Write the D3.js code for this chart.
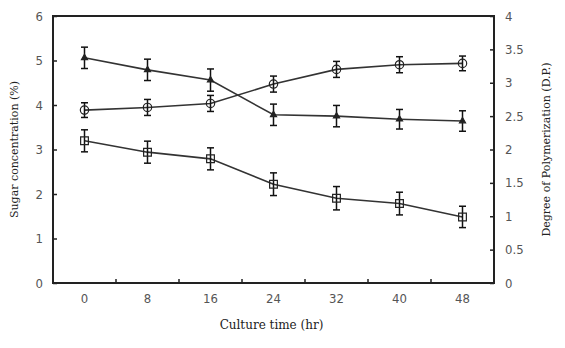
<!DOCTYPE html>
<html>
<head>
<meta charset="utf-8">
<script src="https://cdn.jsdelivr.net/npm/d3@7"></script>
<style>
  html, body { margin: 0; padding: 0; background: #fff; }
  svg { display: block; }
</style>
</head>
<body>
<svg id="chart" width="565" height="348"></svg>
<script>
// Culture time (hr)
const times = ["0", "8", "16", "24", "32", "40", "48"];

// Sugar concentration (%), left axis (triangles)
const sugar = [5.06, 4.79, 4.56, 3.78, 3.75, 3.68, 3.64];
const sugarErr = [0.24, 0.24, 0.25, 0.24, 0.24, 0.22, 0.23];

// Degree of polymerization, right axis (circles and squares)
const dpCircle = [2.59, 2.63, 2.69, 2.98, 3.20, 3.27, 3.29];
const dpCircleErr = [0.11, 0.12, 0.12, 0.12, 0.12, 0.12, 0.11];
const dpSquare = [2.13, 1.96, 1.86, 1.48, 1.27, 1.19, 0.99];
const dpSquareErr = [0.165, 0.165, 0.165, 0.17, 0.175, 0.17, 0.16];

const leftTicks = [0, 1, 2, 3, 4, 5, 6];
const rightTicks = [0, 0.5, 1, 1.5, 2, 2.5, 3, 3.5, 4];

const svg = d3.select("#chart");
const m = { left: 53, right: 494, top: 16, bottom: 283 };
const axisColor = "#222";
const lineColor = "#333";
const tickFont = "'Liberation Sans Narrow', 'DejaVu Sans Condensed', sans-serif";
const titleFont = "'DejaVu Serif', 'Liberation Serif', serif";

const x = d3.scaleBand().domain(times).range([m.left, m.right]);
const yL = d3.scaleLinear().domain([0, 6]).range([m.bottom, m.top]);
const yR = d3.scaleLinear().domain([0, 4]).range([m.bottom, m.top]);
const cx = t => x(t) + x.bandwidth() / 2;

// Left axis: ticks point into the plot
const gL = svg.append("g").attr("transform", `translate(${m.left},0)`)
  .call(d3.axisRight(yL).tickValues(leftTicks).tickSize(4).tickFormat(""));
gL.select(".domain").remove();
gL.selectAll("line").attr("stroke", axisColor).attr("stroke-width", 1.5);
svg.append("g").selectAll("text").data(leftTicks).join("text")
  .attr("x", m.left - 10).attr("y", d => yL(d)).attr("dy", "0.35em")
  .attr("text-anchor", "end").attr("font-family", tickFont).attr("font-size", 13)
  .attr("fill", "#555").text(d => d);

// Right axis: ticks point into the plot
const gR = svg.append("g").attr("transform", `translate(${m.right},0)`)
  .call(d3.axisLeft(yR).tickValues(rightTicks).tickSize(4).tickFormat(""));
gR.select(".domain").remove();
gR.selectAll("line").attr("stroke", axisColor).attr("stroke-width", 1.5);
svg.append("g").selectAll("text").data(rightTicks).join("text")
  .attr("x", m.right + 11).attr("y", d => yR(d)).attr("dy", "0.35em")
  .attr("text-anchor", "start").attr("font-family", tickFont).attr("font-size", 13)
  .attr("fill", "#555").text(d => d);

// Bottom axis: ticks at category boundaries, labels at centers
const bounds = times.slice(1).map(t => x(t));
svg.append("g").selectAll("line").data(bounds).join("line")
  .attr("x1", d => d).attr("x2", d => d)
  .attr("y1", m.bottom).attr("y2", m.bottom - 4)
  .attr("stroke", axisColor).attr("stroke-width", 1.5);
svg.append("g").selectAll("text").data(times).join("text")
  .attr("x", d => cx(d)).attr("y", 298).attr("dy", "0.35em")
  .attr("text-anchor", "middle").attr("font-family", tickFont).attr("font-size", 13)
  .attr("fill", "#555").text(d => d);

// Plot frame
svg.append("rect")
  .attr("x", m.left).attr("y", m.top)
  .attr("width", m.right - m.left).attr("height", m.bottom - m.top)
  .attr("fill", "none").attr("stroke", axisColor).attr("stroke-width", 2);

// Axis titles
svg.append("text")
  .attr("transform", `translate(14,${(m.top + m.bottom) / 2}) rotate(-90)`)
  .attr("dy", "0.35em").attr("text-anchor", "middle")
  .attr("font-family", titleFont).attr("font-size", 11).attr("fill", "#222")
  .text("Sugar concentration (%)");
svg.append("text")
  .attr("transform", `translate(546,${(m.top + m.bottom) / 2}) rotate(-90)`)
  .attr("dy", "0.35em").attr("text-anchor", "middle")
  .attr("font-family", titleFont).attr("font-size", 11).attr("fill", "#222")
  .text("Degree of Polymerization (D.P.)");
svg.append("text")
  .attr("x", (m.left + m.right) / 2 - 2).attr("y", 325).attr("dy", "0.35em")
  .attr("text-anchor", "middle")
  .attr("font-family", titleFont).attr("font-size", 12).attr("fill", "#222")
  .text("Culture time (hr)");

// Series drawing
function drawSeries(values, errs, y, shape) {
  const pts = values.map((v, i) => ({ t: times[i], v, e: errs[i] }));
  const g = svg.append("g");
  g.append("path").datum(pts)
    .attr("d", d3.line().x(d => cx(d.t)).y(d => y(d.v)))
    .attr("fill", "none").attr("stroke", lineColor).attr("stroke-width", 1.6);
  const eb = g.selectAll(".eb").data(pts).join("g");
  eb.append("line")
    .attr("x1", d => cx(d.t)).attr("x2", d => cx(d.t))
    .attr("y1", d => y(d.v - d.e)).attr("y2", d => y(d.v + d.e))
    .attr("stroke", "#111").attr("stroke-width", 1.5);
  [-1, 1].forEach(s => {
    eb.append("line")
      .attr("x1", d => cx(d.t) - 3.5).attr("x2", d => cx(d.t) + 3.5)
      .attr("y1", d => y(d.v + s * d.e)).attr("y2", d => y(d.v + s * d.e))
      .attr("stroke", "#111").attr("stroke-width", 1.5);
  });
  const sym = shape === "circle" ? d3.symbolCircle
            : shape === "square" ? d3.symbolSquare : d3.symbolTriangle;
  const size = shape === "circle" ? 55 : shape === "square" ? 60 : 16;
  g.selectAll(".mk").data(pts).join("path")
    .attr("transform", d => `translate(${cx(d.t)},${y(d.v)})`)
    .attr("d", d3.symbol().type(sym).size(size))
    .attr("fill", shape === "triangle" ? "#222" : "none")
    .attr("stroke", "#222").attr("stroke-width", 1.2);
}

drawSeries(sugar, sugarErr, yL, "triangle");
drawSeries(dpCircle, dpCircleErr, yR, "circle");
drawSeries(dpSquare, dpSquareErr, yR, "square");
</script>
</body>
</html>
